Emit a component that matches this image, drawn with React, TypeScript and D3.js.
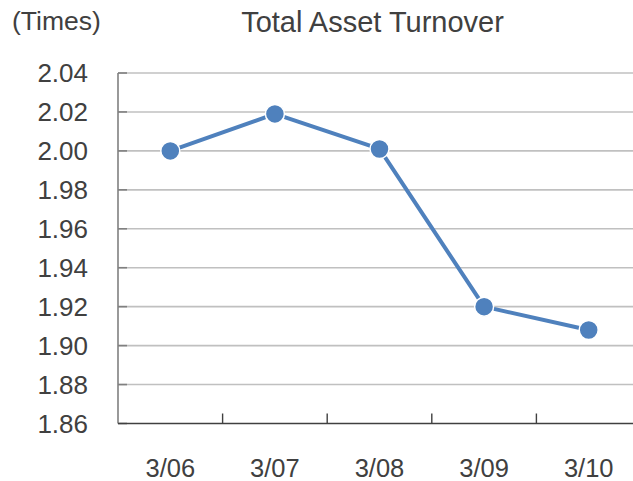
import React from "react";
import * as d3 from "d3";

const categories = ["3/06", "3/07", "3/08", "3/09", "3/10"];
const values = [2.0, 2.019, 2.001, 1.92, 1.908];
const yTicks = [1.86, 1.88, 1.9, 1.92, 1.94, 1.96, 1.98, 2.0, 2.02, 2.04];
const title = "Total Asset Turnover";
const unitLabel = "(Times)";

const W = 633;
const H = 481;
const FONT = "'Liberation Sans', Arial, sans-serif";
const TEXT = "#404040";
const BLUE = "#4f81bd";

export default function App() {
  const x = d3.scaleBand<string>().domain(categories).range([118, 641]).padding(0);
  const y = d3.scaleLinear().domain([1.86, 2.04]).range([423.5, 73]);
  const cx = (c: string) => (x(c) as number) + x.bandwidth() / 2;
  const line = d3
    .line<number>()
    .x((_, i) => cx(categories[i]))
    .y((d) => y(d));
  const x0 = 118;

  return (
    <svg
      width={W}
      height={H}
      style={{ position: "absolute", left: 0, top: 0, background: "#fff" }}
      fontFamily={FONT}
    >
      <rect width={W} height={H} fill="#fff" />
      {/* gridlines */}
      {yTicks.slice(1).map((t) => (
        <line key={"g" + t} x1={x0} x2={W} y1={y(t)} y2={y(t)} stroke="#c0c0c0" strokeWidth={1.6} />
      ))}
      {/* y tick marks */}
      {yTicks.map((t) => (
        <line key={"yt" + t} x1={x0} x2={x0 + 9} y1={y(t)} y2={y(t)} stroke="#808080" strokeWidth={1.6} />
      ))}
      {/* y axis */}
      <line x1={x0} x2={x0} y1={y(2.04)} y2={y(1.86)} stroke="#808080" strokeWidth={1.6} />
      {/* x axis */}
      <line x1={x0} x2={W} y1={y(1.86)} y2={y(1.86)} stroke="#404040" strokeWidth={1.6} />
      {categories.slice(1).map((c) => (
        <line
          key={"xt" + c}
          x1={x(c) as number}
          x2={x(c) as number}
          y1={y(1.86)}
          y2={y(1.86) - 10}
          stroke="#404040"
          strokeWidth={1.4}
        />
      ))}
      {/* y labels */}
      {yTicks.map((t) => (
        <text
          key={"yl" + t}
          x={88}
          y={y(t)}
          textAnchor="end"
          dominantBaseline="central"
          fontSize={26}
          fill={TEXT}
        >
          {t.toFixed(2)}
        </text>
      ))}
      {/* x labels */}
      {categories.map((c) => (
        <text
          key={"xl" + c}
          x={cx(c)}
          y={476.5}
          textAnchor="middle"
          fontSize={25.5}
          fill={TEXT}
        >
          {c}
        </text>
      ))}
      {/* title */}
      <text x={372.5} y={22} textAnchor="middle" dominantBaseline="central" fontSize={29} fill={TEXT}>
        {title}
      </text>
      <text x={12} y={20.5} textAnchor="start" dominantBaseline="central" fontSize={26.5} fill={TEXT}>
        {unitLabel}
      </text>
      {/* series */}
      <path d={line(values) as string} fill="none" stroke={BLUE} strokeWidth={4} strokeLinejoin="round" />
      {values.map((v, i) => (
        <circle key={"p" + i} cx={cx(categories[i])} cy={y(v)} r={9.5} fill={BLUE} stroke="#fff" strokeWidth={1.5} />
      ))}
    </svg>
  );
}
